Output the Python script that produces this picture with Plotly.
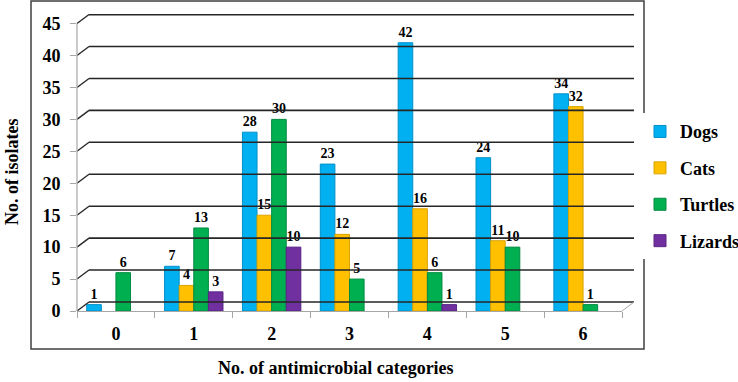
import plotly.graph_objects as go

categories = ["0", "1", "2", "3", "4", "5", "6"]
dogs = [1, 7, 28, 23, 42, 24, 34]
cats = [0, 4, 15, 12, 16, 11, 32]
turtles = [6, 13, 30, 5, 6, 10, 1]
lizards = [0, 3, 10, 0, 1, 0, 0]
series_names = ["Dogs", "Cats", "Turtles", "Lizards"]
colors = ["#00B0F0", "#FFC000", "#00B050", "#7030A0"]
edges = ["#0090C8", "#D9A300", "#008A40", "#5A2585"]
y_ticks = [0, 5, 10, 15, 20, 25, 30, 35, 40, 45]

FONT = "Times New Roman, Liberation Serif, serif"
W, H = 738, 382
ml, mr, mt, mb = 77, 116, 14, 71
pw = W - ml - mr
ph = H - mt - mb
ymax = 46.5
px_per_unit = ph / ymax
dx = 12 / pw                 # depth offset in paper units
dy = 9 / px_per_unit         # depth offset in data units

fig = go.Figure()
for name, vals, c, e in zip(series_names, [dogs, cats, turtles, lizards], colors, edges):
    fig.add_trace(go.Bar(
        x=categories, y=[v if v else None for v in vals], name=name,
        marker=dict(color=c, line=dict(color=e, width=1)),
        text=[str(v) if v else "" for v in vals],
        textposition="outside", cliponaxis=False,
        textfont=dict(family=FONT, size=14, color="black", weight="bold"),
        legendgroup=name,
    ))

shapes = []
for v in y_ticks:
    col = "#262626"
    shapes.append(dict(type="line", xref="paper", yref="y", x0=0, y0=v, x1=dx, y1=v + dy,
                       line=dict(color=col, width=1.3)))
    shapes.append(dict(type="line", xref="paper", yref="y", x0=dx, y0=v + dy, x1=1 + dx, y1=v + dy,
                       line=dict(color=col, width=1.6)))
shapes.append(dict(type="line", xref="paper", yref="y", x0=1, y0=0, x1=1 + dx, y1=dy,
                   line=dict(color="#A6A6A6", width=1)))
shapes.append(dict(type="line", xref="paper", yref="y", x0=0, y0=0, x1=0, y1=45,
                   line=dict(color="#A6A6A6", width=1.2)))
shapes.append(dict(type="rect", xref="paper", yref="paper",
                   x0=(31 - ml) / pw, x1=(644 - ml) / pw,
                   y0=(H - mb - 349) / ph, y1=(H - mb - 1) / ph,
                   line=dict(color="#404040", width=1.5), layer="below"))

fig.update_layout(
    width=W, height=H,
    margin=dict(l=ml, r=mr, t=mt, b=mb, autoexpand=False),
    paper_bgcolor="white", plot_bgcolor="white",
    barmode="group", bargap=0.25, bargroupgap=0,
    font=dict(family=FONT, color="black"),
    shapes=shapes,
    showlegend=True,
    legend=dict(x=(640 - ml) / pw, y=0.42, xanchor="left", yanchor="middle",
                font=dict(family=FONT, size=18, color="black", weight="bold"),
                tracegroupgap=10, itemwidth=30),
    xaxis=dict(showgrid=False, showline=True, linecolor="#A6A6A6", linewidth=1.2,
               ticks="outside", tickson="boundaries", ticklen=6, tickcolor="#A6A6A6",
               tickfont=dict(family=FONT, size=18, weight="bold"),
               ticklabelstandoff=6, automargin=False),
    yaxis=dict(range=[0, ymax], tickvals=y_ticks, showgrid=False, zeroline=False,
               showline=False, ticks="outside", ticklen=6, tickcolor="#A6A6A6",
               tickfont=dict(family=FONT, size=18, weight="bold"),
               ticklabelstandoff=6, automargin=False),
    annotations=[
        dict(text="No. of isolates", xref="paper", yref="paper",
             x=(12 - ml) / pw, y=(H - mb - 172) / ph, textangle=-90,
             showarrow=False, xanchor="center", yanchor="middle",
             font=dict(family=FONT, size=18, weight="bold")),
        dict(text="No. of antimicrobial categories", xref="paper", yref="paper",
             x=(336 - ml) / pw, y=(H - mb - 368) / ph,
             showarrow=False, xanchor="center", yanchor="middle",
             font=dict(family=FONT, size=18, weight="bold")),
    ],
)

fig.write_html("out.html", config={"displayModeBar": False},
               post_script="document.body.style.margin='0';document.body.style.padding='0';")
